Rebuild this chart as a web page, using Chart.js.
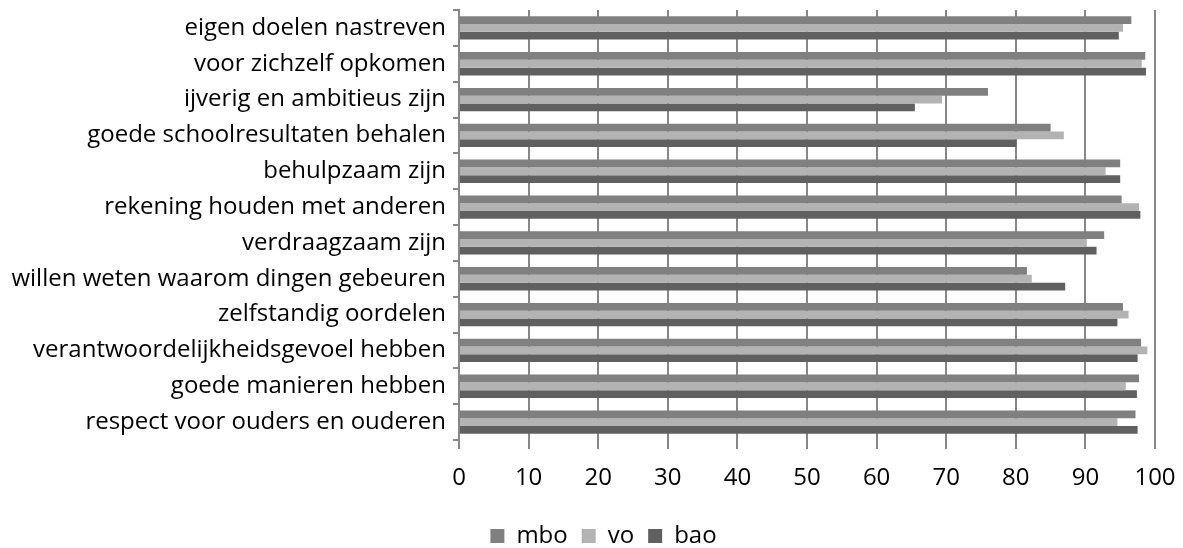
<!DOCTYPE html>
<html>
<head>
<meta charset="utf-8">
<script src="https://cdn.jsdelivr.net/npm/chart.js@4"></script>
<style>
  html, body { margin: 0; padding: 0; background: #fff; }
  #wrap { width: 1183px; height: 548px; }
</style>
</head>
<body>
<div id="wrap"><canvas id="c" width="1183" height="548"></canvas></div>
<script>
const categories = [
  "eigen doelen nastreven",
  "voor zichzelf opkomen",
  "ijverig en ambitieus zijn",
  "goede schoolresultaten behalen",
  "behulpzaam zijn",
  "rekening houden met anderen",
  "verdraagzaam zijn",
  "willen weten waarom dingen gebeuren",
  "zelfstandig oordelen",
  "verantwoordelijkheidsgevoel hebben",
  "goede manieren hebben",
  "respect voor ouders en ouderen"
];
const mbo = [96.6, 98.6, 76.0, 85.0, 95.0, 95.2, 92.7, 81.6, 95.4, 98.0, 97.7, 97.2];
const vo  = [95.4, 98.1, 69.4, 86.9, 92.9, 97.7, 90.2, 82.3, 96.2, 98.9, 95.8, 94.6];
const bao = [94.8, 98.7, 65.5, 80.1, 95.0, 97.9, 91.6, 87.1, 94.6, 97.5, 97.4, 97.5];
const xTicks = [0, 10, 20, 30, 40, 50, 60, 70, 80, 90, 100];

const FONT = "'Open Sans', sans-serif";
const GRID = '#878787';

const legendShift = {
  id: 'legendShift',
  beforeDraw(chart) {
    const lg = chart.legend;
    if (!lg || lg._shifted) return;
    lg.left += 26; lg.right += 26;
    lg.top += 10; lg.bottom += 10;
    lg._shifted = true;
  }
};

new Chart(document.getElementById('c'), {
  type: 'bar',
  data: {
    labels: categories,
    datasets: [
      { label: 'mbo', data: mbo, backgroundColor: '#808080' },
      { label: 'vo',  data: vo,  backgroundColor: '#b3b3b3' },
      { label: 'bao', data: bao, backgroundColor: '#606060' }
    ]
  },
  options: {
    indexAxis: 'y',
    responsive: false,
    animation: false,
    devicePixelRatio: 1,
    datasets: { bar: { barPercentage: 1.0, categoryPercentage: 0.65, borderWidth: 0 } },
    layout: { padding: { top: 10, left: 0, right: 28, bottom: 0 } },
    scales: {
      x: {
        min: 0, max: 100,
        afterBuildTicks: (s) => { s.ticks = xTicks.map(v => ({ value: v })); },
        afterFit: (s) => { s.height = 60; s.paddingLeft = 0; s.paddingRight = 0; },
        grid: { color: GRID, lineWidth: 2, drawTicks: true, tickLength: 9, tickColor: GRID },
        border: { display: false },
        ticks: { font: { family: FONT, size: 24 }, color: '#000', padding: 15, maxRotation: 0 }
      },
      y: {
        afterFit: (s) => { s.width = 459; s.paddingTop = 0; s.paddingBottom = 0; },
        grid: { offset: true, drawOnChartArea: false, drawTicks: true, tickLength: 6, color: GRID, lineWidth: 2 },
        border: { display: true, color: GRID, width: 2 },
        ticks: { font: { family: FONT, size: 24 }, color: '#000', padding: 7, autoSkip: false }
      }
    },
    plugins: {
      legend: {
        position: 'bottom',
        labels: { font: { family: FONT, size: 24 }, color: '#000', boxWidth: 14, boxHeight: 14, padding: 14 }
      },
      tooltip: { enabled: false }
    }
  },
  plugins: [legendShift]
});
</script>
</body>
</html>
